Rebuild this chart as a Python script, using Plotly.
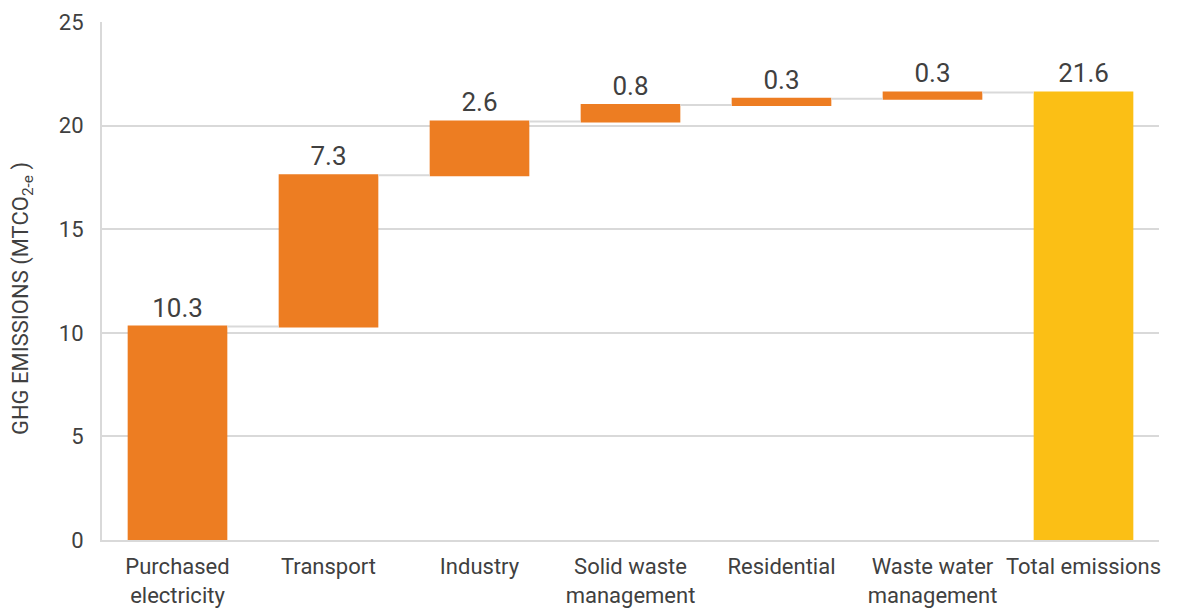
import plotly.graph_objects as go

categories = ["Purchased<br>electricity", "Transport", "Industry", "Solid waste<br>management",
              "Residential", "Waste water<br>management", "Total emissions"]
values = [10.3, 7.3, 2.6, 0.8, 0.3, 0.3, 21.6]
measures = ["relative"] * 6 + ["total"]
labels = ["10.3", "7.3", "2.6", "0.8", "0.3", "0.3", "21.6"]
y_ticks = [0, 5, 10, 15, 20, 25]
y_title = "GHG EMISSIONS (MTCO<sub>2-e</sub> )"

FONT = "Roboto"
TXT = "#404040"

fig = go.Figure(go.Waterfall(
    x=categories,
    y=values,
    measure=measures,
    text=labels,
    textposition="outside",
    textfont=dict(family=FONT, size=26, color=TXT),
    increasing=dict(marker=dict(color="#ED7D22")),
    totals=dict(marker=dict(color="#FBBF15")),
    connector=dict(mode="between", line=dict(color="#d9d9d9", width=2)),
    width=0.66,
    cliponaxis=False,
))

fig.update_layout(
    width=1177, height=600,
    margin=dict(l=94, r=26, t=14, b=68),
    plot_bgcolor="white", paper_bgcolor="white",
    showlegend=False,
    font=dict(family=FONT, color=TXT),
    xaxis=dict(
        tickfont=dict(family=FONT, size=22, color=TXT),
        showline=True, linecolor="#d9d9d9", linewidth=2,
        ticks="", showgrid=False, automargin=False,
        ticklabelstandoff=6,
    ),
    yaxis=dict(
        range=[0, 25], tickvals=y_ticks,
        tickfont=dict(family=FONT, size=22, color=TXT),
        showgrid=True, gridcolor="#d9d9d9", gridwidth=2,
        showline=True, linecolor="#d9d9d9", linewidth=2,
        zeroline=False, ticks="outside", ticklen=12, tickcolor="white",
        automargin=False,
    ),
    annotations=[dict(
        text=y_title, textangle=-90, showarrow=False,
        xref="paper", yref="paper", x=-0.0757, y=0.467,
        xanchor="center", yanchor="middle",
        font=dict(family=FONT, size=22, color=TXT),
    )],
)

fig.write_html("out.html")
